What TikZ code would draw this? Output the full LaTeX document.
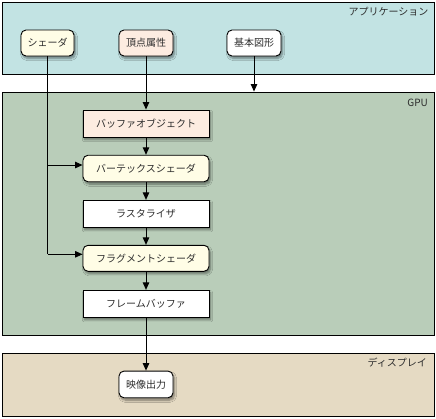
\documentclass[tikz,border=0pt]{standalone}
\usepackage{fontspec}
\setmainfont{Noto Sans CJK JP}
\usetikzlibrary{arrows.meta,shadows.blur,calc}
\definecolor{appfill}{RGB}{194,227,227}
\definecolor{gpufill}{RGB}{185,205,185}
\definecolor{dispfill}{RGB}{229,218,195}
\definecolor{yelfill}{RGB}{255,253,230}
\definecolor{pinkfill}{RGB}{253,236,225}
\definecolor{txt}{RGB}{45,45,45}
\begin{document}
\begin{tikzpicture}[x=1bp,y=-1bp,
  every node/.style={font=\fontsize{10bp}{12bp}\selectfont, text=txt},
  panel/.style={draw=black, line width=0.9bp, inner sep=0pt},
  plabel/.style={inner sep=0pt, anchor=east},
  box/.style={draw=black, line width=0.9bp, inner sep=0pt,
    blur shadow={shadow xshift=1.5bp, shadow yshift=-2.5bp, shadow blur steps=6, shadow opacity=45}},
  rbox/.style={box, rounded corners=5bp},
  conn/.style={line width=0.9bp, draw=black},
  arr/.style={conn, -{Triangle[width=6.5bp,length=7.5bp]}}
]
\useasboundingbox (0,0) rectangle (436,418);
% panels
\node[panel, fill=appfill, minimum width=432bp, minimum height=72bp] (app) at (218.5,38) {};
\node[panel, fill=gpufill, minimum width=432bp, minimum height=243bp] (gpu) at (218.5,213.5) {};
\node[panel, fill=dispfill, minimum width=432bp, minimum height=63bp] (disp) at (218.5,384.5) {};
\node[plabel] (applbl) at (428.5,12) {アプリケーション};
\node[plabel] (gpulbl) at (428,103) {GPU};
\node[plabel] (displbl) at (427,363) {ディスプレイ};
% application nodes
\node[rbox, fill=yelfill, minimum width=53bp, minimum height=26bp] (sh) at (47.5,43) {シェーダ};
\node[rbox, fill=pinkfill, minimum width=54bp, minimum height=26bp] (va) at (146,43) {頂点属性};
\node[rbox, fill=white, minimum width=54bp, minimum height=26bp] (bs) at (254,43) {基本図形};
% gpu nodes
\node[box, fill=pinkfill, minimum width=126bp, minimum height=27bp] (bo) at (146,123.5) {バッファオブジェクト};
\node[rbox, fill=yelfill, minimum width=126bp, minimum height=26.5bp] (vs) at (146,168.5) {バーテックスシェーダ};
\node[box, fill=white, minimum width=126bp, minimum height=27bp] (rs) at (146,213.8) {ラスタライザ};
\node[rbox, fill=yelfill, minimum width=126bp, minimum height=26bp] (fs) at (146,258.3) {フラグメントシェーダ};
\node[box, fill=white, minimum width=126bp, minimum height=27bp] (fb) at (146,303.8) {フレームバッファ};
% display node
\node[rbox, fill=white, minimum width=54bp, minimum height=26.7bp] (out) at (146,384.4) {映像出力};
% connectors
\coordinate (vsin) at ($(vs.west)+(0,-3.5)$);
\coordinate (fsin) at ($(fs.west)+(0,-4)$);
\draw[conn] (sh.south) -- (sh.south |- fsin);
\draw[arr] (sh.south |- fsin) -- (fsin);
\draw[arr] (sh.south |- vsin) -- (vsin);
\draw[arr] (va.south) -- (bo.north);
\draw[arr] (bs.south) -- (bs.south |- gpu.north);
\draw[arr] (bo.south) -- (vs.north);
\draw[arr] (vs.south) -- (rs.north);
\draw[arr] (rs.south) -- (fs.north);
\draw[arr] (fs.south) -- (fb.north);
\draw[arr] (fb.south) -- (out.north);
\end{tikzpicture}
\end{document}
